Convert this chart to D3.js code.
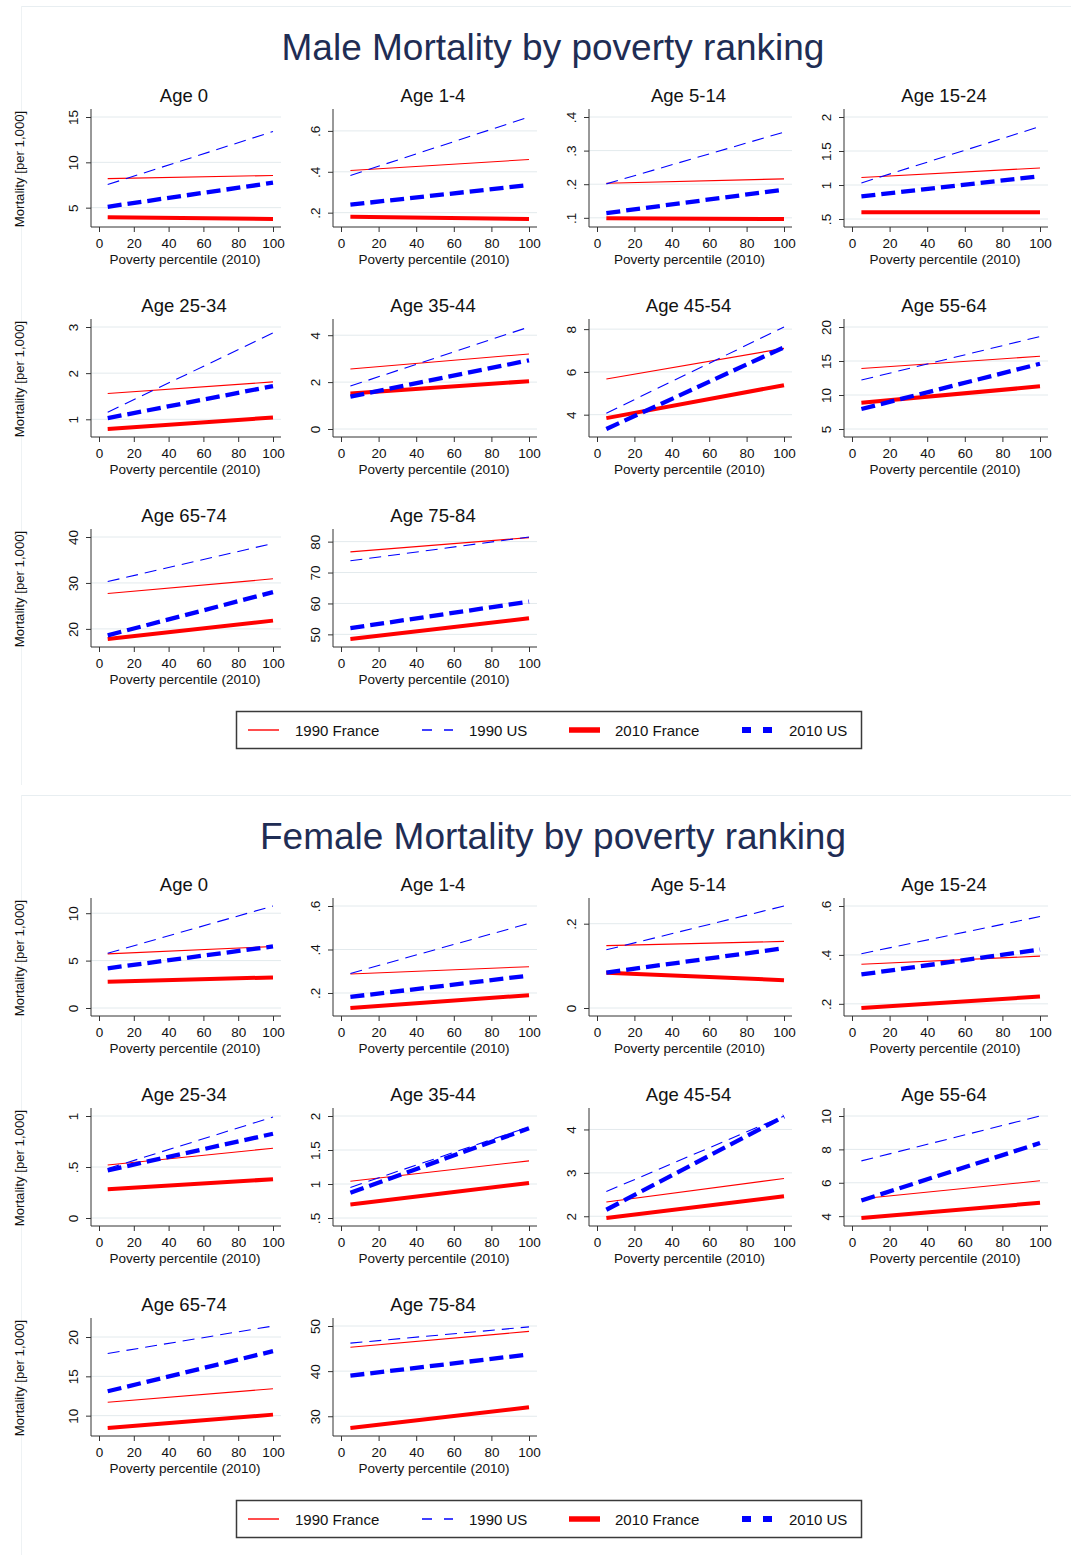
<!DOCTYPE html>
<html><head><meta charset="utf-8">
<script src="https://cdn.jsdelivr.net/npm/d3@7"></script>
<style>
body{margin:0;background:#fff}
svg{display:block}
text{font-family:"Liberation Sans",Arial,Helvetica,sans-serif}
</style>
</head><body>
<svg id="chart" width="1071" height="1555"></svg>
<script>
// ---------------- DATA ----------------
const ageGroups = ["Age 0","Age 1-4","Age 5-14","Age 15-24","Age 25-34","Age 35-44","Age 45-54","Age 55-64","Age 65-74","Age 75-84"];
const seriesNames = ["1990 France","1990 US","2010 France","2010 US"];
const xPoints = [5, 100];              // poverty percentile at line start / end
const xTicks = [0, 20, 40, 60, 80, 100];

// each entry: [value at percentile 5, value at percentile 100]
const maleFrance1990 = [[8.2,8.55],[0.406,0.46],[0.203,0.216],[1.11,1.25],[1.56,1.81],[2.56,3.2],[5.67,7.1],[13.9,15.7],[27.7,30.9],[76.7,81.3]];
const maleUS1990     = [[7.55,13.4],[0.382,0.668],[0.201,0.355],[1.03,1.86],[1.155,2.87],[1.83,4.35],[4.07,8.1],[12.2,18.6],[30.3,38.6],[73.8,81.5]];
const maleFrance2010 = [[3.95,3.75],[0.18,0.169],[0.099,0.0965],[0.60,0.60],[0.79,1.04],[1.51,2.04],[3.84,5.38],[8.87,11.27],[17.8,21.8],[48.5,55.2]];
const maleUS2010     = [[5.1,7.75],[0.239,0.335],[0.114,0.184],[0.833,1.13],[1.026,1.72],[1.38,2.93],[3.33,7.15],[7.94,14.6],[18.6,28.0],[52.0,60.6]];

const femaleFrance1990 = [[5.71,6.48],[0.287,0.321],[0.148,0.158],[0.362,0.395],[0.52,0.684],[1.04,1.34],[2.33,2.87],[5.04,6.12],[11.7,13.43],[45.3,48.8]];
const femaleUS1990     = [[5.78,10.76],[0.29,0.52],[0.138,0.242],[0.405,0.557],[0.484,0.99],[0.95,1.84],[2.57,4.31],[7.31,10.0],[17.9,21.4],[46.2,49.8]];
const femaleFrance2010 = [[2.77,3.23],[0.131,0.19],[0.0835,0.066],[0.183,0.23],[0.283,0.38],[0.70,1.015],[1.96,2.46],[3.89,4.8],[8.43,10.13],[27.4,32.0]];
const femaleUS2010     = [[4.19,6.5],[0.182,0.28],[0.084,0.142],[0.32,0.422],[0.467,0.826],[0.87,1.82],[2.15,4.3],[4.94,8.38],[13.1,18.2],[39.0,43.7]];

const maleYTicks = [[5,10,15],[0.2,0.4,0.6],[0.1,0.2,0.3,0.4],[0.5,1,1.5,2],[1,2,3],[0,2,4],[4,6,8],[5,10,15,20],[20,30,40],[50,60,70,80]];
const femaleYTicks = [[0,5,10],[0.2,0.4,0.6],[0,0.2],[0.2,0.4,0.6],[0,0.5,1],[0.5,1,1.5,2],[2,3,4],[4,6,8,10],[10,15,20],[30,40,50]];

const titles = ["Male Mortality by poverty ranking","Female Mortality by poverty ranking"];
const xTitle = "Poverty percentile (2010)";
const yTitle = "Mortality [per 1,000]";

// ---------------- STYLE / LAYOUT ----------------
const styles = [
  {color:"#ff0000", width:1.1, dash:null,   lw:1.4, ldash:null},
  {color:"#0000ff", width:1.1, dash:"12,7", lw:1.6, ldash:"10,12"},
  {color:"#ff0000", width:4,   dash:null,   lw:5.5, ldash:null},
  {color:"#0000ff", width:4.3, dash:"14,6", lw:6,   ldash:"9,12"}
];
const colLeft = [91, 333, 589, 844], colRight = [281, 537, 792, 1048];
const rowTop = [109, 319, 529], plotH = 118, pad = 8;
const blockOffset = [0, 789];
const fmt = v => { let s = d3.format("~g")(v); return s.replace(/^0\./, ".").replace(/^-0\./, "-."); };

const svg = d3.select("#chart");

const blocks = [
  {title: titles[0], ticks: maleYTicks, series: [maleFrance1990, maleUS1990, maleFrance2010, maleUS2010]},
  {title: titles[1], ticks: femaleYTicks, series: [femaleFrance1990, femaleUS1990, femaleFrance2010, femaleUS2010]}
];

blocks.forEach((blk, bi) => {
  const off = blockOffset[bi];
  const g = svg.append("g").attr("transform", `translate(0,${off})`);
  // faint frame
  g.append("line").attr("x1",21).attr("x2",1071).attr("y1",6.5).attr("y2",6.5).attr("stroke","#e8eef1").attr("stroke-width",1);
  g.append("line").attr("x1",21.5).attr("x2",21.5).attr("y1",6).attr("y2",785).attr("stroke","#eef2f4").attr("stroke-width",1);

  g.append("text").attr("x",553).attr("y",59.5).attr("text-anchor","middle")
    .attr("font-size",37).attr("fill","#1f2d54").text(blk.title);

  ageGroups.forEach((age, i) => {
    const r = Math.floor(i/4), c = i % 4;
    const L = colLeft[c], R = colRight[c], T = rowTop[r], B = T + plotH;
    const ticks = blk.ticks[i];
    const vals = blk.series.flatMap(s => s[i]);
    const lo = Math.min(ticks[0], d3.min(vals)), hi = Math.max(ticks[ticks.length-1], d3.max(vals));
    const x = d3.scaleLinear().domain([0,100]).range([L+pad, R-pad]);
    const y = d3.scaleLinear().domain([lo, hi]).range([B-pad, T+pad]);
    const p = g.append("g");

    // grid
    p.selectAll("line.grid").data(ticks).join("line").attr("class","grid")
      .attr("x1", L).attr("x2", R).attr("y1", d => y(d)).attr("y2", d => y(d))
      .attr("stroke", "#e3eaed").attr("stroke-width", 1);

    // series lines
    const line = d3.line().x(d => x(d[0])).y(d => y(d[1]));
    blk.series.forEach((s, si) => {
      const pts = xPoints.map((xp, k) => [xp, s[i][k]]);
      const st = styles[si];
      p.append("path").attr("d", line(pts)).attr("fill","none")
        .attr("stroke", st.color).attr("stroke-width", st.width)
        .attr("stroke-dasharray", st.dash).attr("stroke-linecap","butt");
    });

    // y axis
    const ya = p.append("g").attr("transform", `translate(${L},0)`)
      .call(d3.axisLeft(y).tickValues(ticks).tickFormat(fmt).tickSize(5).tickSizeOuter(0));
    ya.select(".domain").remove();
    ya.selectAll(".tick line").attr("stroke","#333");
    ya.selectAll(".tick text").attr("transform","rotate(-90)").attr("x",0).attr("y",-13).attr("dy",0)
      .attr("text-anchor","middle").attr("font-size",13.5).attr("fill","#111").attr("font-family",null);
    p.append("line").attr("x1",L).attr("x2",L).attr("y1",T).attr("y2",B).attr("stroke","#333").attr("stroke-width",1);

    // x axis
    const xa = p.append("g").attr("transform", `translate(0,${B})`)
      .call(d3.axisBottom(x).tickValues(xTicks).tickSize(5).tickSizeOuter(0).tickPadding(6.5));
    xa.select(".domain").remove();
    xa.selectAll(".tick line").attr("stroke","#333");
    xa.selectAll(".tick text").attr("font-size",13.5).attr("fill","#111").attr("font-family",null);
    p.append("line").attr("x1",L).attr("x2",R).attr("y1",B).attr("y2",B).attr("stroke","#333").attr("stroke-width",1);

    p.append("text").attr("x",(L+R)/2 - 1).attr("y",B+36.5).attr("text-anchor","middle")
      .attr("font-size",13.5).attr("fill","#111").text(xTitle);
    p.append("text").attr("x",(L+R)/2 - 2).attr("y",T-7.5).attr("text-anchor","middle")
      .attr("font-size",18.5).attr("fill","#111").text(age);
    if (c === 0) {
      p.append("text").attr("transform",`translate(24,${(T+B)/2+1}) rotate(-90)`).attr("text-anchor","middle")
        .attr("font-size",13.2).attr("fill","#111").text(yTitle);
    }
  });

  // legend
  const lg = g.append("g");
  lg.append("rect").attr("x",236.5).attr("y",711.5).attr("width",625).attr("height",37)
    .attr("fill","#fff").attr("stroke","#3a3a3a").attr("stroke-width",1.5);
  const sampleX = [248, 422, 569, 742], textX = [295, 469, 615, 789];
  seriesNames.forEach((nm, si) => {
    const st = styles[si];
    lg.append("line").attr("x1",sampleX[si]).attr("x2",sampleX[si]+31).attr("y1",730).attr("y2",730)
      .attr("stroke",st.color).attr("stroke-width",st.lw).attr("stroke-dasharray",st.ldash);
    lg.append("text").attr("x",textX[si]).attr("y",735.5).attr("font-size",15).attr("fill","#111").text(nm);
  });
});
</script>
</body></html>
